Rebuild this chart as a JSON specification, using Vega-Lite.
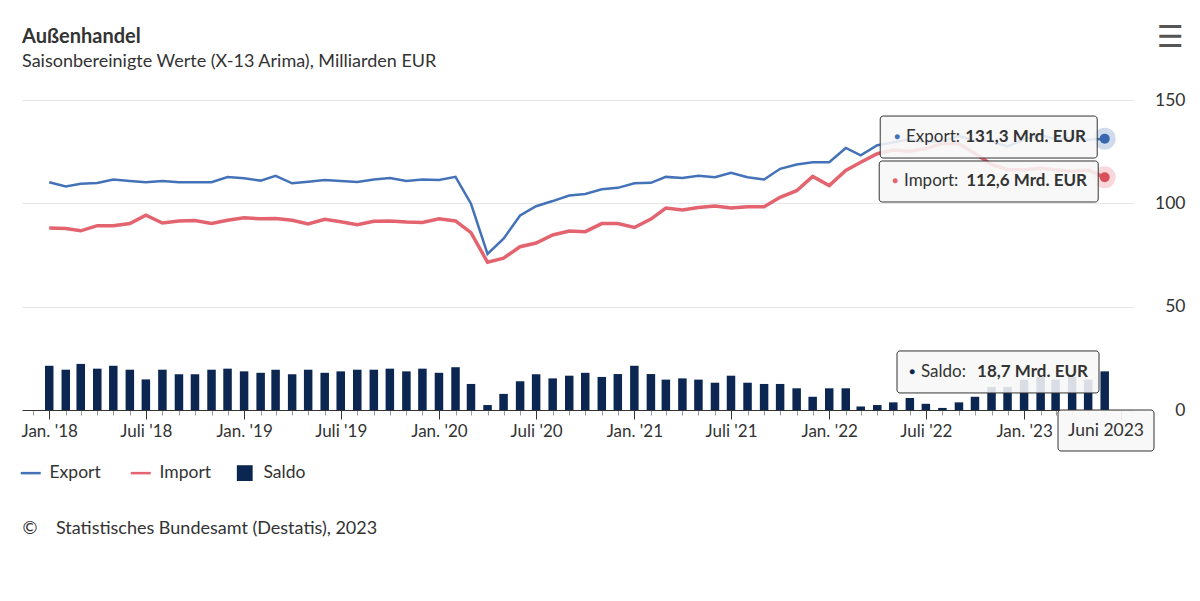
{
  "$schema": "https://vega.github.io/schema/vega-lite/v6.json",
  "width": 1111,
  "height": 310,
  "autosize": {"type": "none"},
  "padding": {"left": 22, "top": 100, "right": 67, "bottom": 191},
  "background": "#ffffff",
  "config": {
    "font": "Lato",
    "view": {"stroke": null},
    "axis": {"labelFont": "Lato", "titleFont": "Lato", "labelColor": "#333333", "titleColor": "#333333"}
  },
  "title": {
    "text": "Außenhandel",
    "subtitle": "Saisonbereinigte Werte (X-13 Arima), Milliarden EUR",
    "anchor": "start",
    "frame": "group",
    "font": "Lato",
    "fontSize": 20,
    "fontWeight": "bold",
    "color": "#333333",
    "subtitleFont": "Lato",
    "subtitleFontSize": 18,
    "subtitleColor": "#333333",
    "subtitlePadding": 6,
    "offset": -49
  },
  "data": {
    "values": [
      {"date": "2018-01-01", "Export": 110.2, "Import": 88.1, "Saldo": 21.4},
      {"date": "2018-02-01", "Export": 108.2, "Import": 87.8, "Saldo": 19.5},
      {"date": "2018-03-01", "Export": 109.5, "Import": 86.7, "Saldo": 22.3},
      {"date": "2018-04-01", "Export": 109.8, "Import": 89.2, "Saldo": 20.0},
      {"date": "2018-05-01", "Export": 111.5, "Import": 89.2, "Saldo": 21.4},
      {"date": "2018-06-01", "Export": 110.8, "Import": 90.2, "Saldo": 19.5},
      {"date": "2018-07-01", "Export": 110.2, "Import": 94.3, "Saldo": 14.8},
      {"date": "2018-08-01", "Export": 110.8, "Import": 90.5, "Saldo": 19.5},
      {"date": "2018-09-01", "Export": 110.2, "Import": 91.5, "Saldo": 17.3},
      {"date": "2018-10-01", "Export": 110.2, "Import": 91.7, "Saldo": 17.3},
      {"date": "2018-11-01", "Export": 110.2, "Import": 90.2, "Saldo": 19.5},
      {"date": "2018-12-01", "Export": 112.7, "Import": 91.8, "Saldo": 20.0},
      {"date": "2019-01-01", "Export": 112.1, "Import": 93.0, "Saldo": 18.7},
      {"date": "2019-02-01", "Export": 111.0, "Import": 92.5, "Saldo": 18.0},
      {"date": "2019-03-01", "Export": 113.3, "Import": 92.7, "Saldo": 19.5},
      {"date": "2019-04-01", "Export": 109.7, "Import": 91.8, "Saldo": 17.3},
      {"date": "2019-05-01", "Export": 110.5, "Import": 90.0, "Saldo": 19.5},
      {"date": "2019-06-01", "Export": 111.3, "Import": 92.3, "Saldo": 18.0},
      {"date": "2019-07-01", "Export": 110.8, "Import": 91.1, "Saldo": 18.7},
      {"date": "2019-08-01", "Export": 110.3, "Import": 89.6, "Saldo": 19.5},
      {"date": "2019-09-01", "Export": 111.5, "Import": 91.3, "Saldo": 19.5},
      {"date": "2019-10-01", "Export": 112.3, "Import": 91.5, "Saldo": 20.0},
      {"date": "2019-11-01", "Export": 110.8, "Import": 91.0, "Saldo": 18.7},
      {"date": "2019-12-01", "Export": 111.5, "Import": 90.7, "Saldo": 20.0},
      {"date": "2020-01-01", "Export": 111.3, "Import": 92.5, "Saldo": 18.0},
      {"date": "2020-02-01", "Export": 112.8, "Import": 91.5, "Saldo": 20.7},
      {"date": "2020-03-01", "Export": 99.8, "Import": 85.8, "Saldo": 12.6},
      {"date": "2020-04-01", "Export": 75.5, "Import": 71.5, "Saldo": 2.4},
      {"date": "2020-05-01", "Export": 82.9, "Import": 73.5, "Saldo": 7.8},
      {"date": "2020-06-01", "Export": 94.1, "Import": 79.0, "Saldo": 13.9},
      {"date": "2020-07-01", "Export": 98.6, "Import": 80.8, "Saldo": 17.3},
      {"date": "2020-08-01", "Export": 101.1, "Import": 84.7, "Saldo": 15.3},
      {"date": "2020-09-01", "Export": 103.8, "Import": 86.6, "Saldo": 16.6},
      {"date": "2020-10-01", "Export": 104.5, "Import": 86.3, "Saldo": 18.0},
      {"date": "2020-11-01", "Export": 106.8, "Import": 90.2, "Saldo": 16.0},
      {"date": "2020-12-01", "Export": 107.5, "Import": 90.2, "Saldo": 17.4},
      {"date": "2021-01-01", "Export": 109.7, "Import": 88.3, "Saldo": 21.4},
      {"date": "2021-02-01", "Export": 109.9, "Import": 92.4, "Saldo": 17.4},
      {"date": "2021-03-01", "Export": 112.8, "Import": 97.7, "Saldo": 14.7},
      {"date": "2021-04-01", "Export": 112.3, "Import": 96.8, "Saldo": 15.3},
      {"date": "2021-05-01", "Export": 113.3, "Import": 98.0, "Saldo": 14.7},
      {"date": "2021-06-01", "Export": 112.6, "Import": 98.7, "Saldo": 13.2},
      {"date": "2021-07-01", "Export": 114.8, "Import": 97.7, "Saldo": 16.6},
      {"date": "2021-08-01", "Export": 112.6, "Import": 98.4, "Saldo": 13.2},
      {"date": "2021-09-01", "Export": 111.5, "Import": 98.4, "Saldo": 12.6},
      {"date": "2021-10-01", "Export": 116.7, "Import": 102.9, "Saldo": 12.6},
      {"date": "2021-11-01", "Export": 118.8, "Import": 106.1, "Saldo": 10.5},
      {"date": "2021-12-01", "Export": 119.9, "Import": 113.0, "Saldo": 6.4},
      {"date": "2022-01-01", "Export": 119.9, "Import": 108.6, "Saldo": 10.5},
      {"date": "2022-02-01", "Export": 126.8, "Import": 115.9, "Saldo": 10.5},
      {"date": "2022-03-01", "Export": 123.2, "Import": 119.9, "Saldo": 1.7},
      {"date": "2022-04-01", "Export": 128.1, "Import": 124.0, "Saldo": 2.4},
      {"date": "2022-05-01", "Export": 129.5, "Import": 125.8, "Saldo": 3.7},
      {"date": "2022-06-01", "Export": 131.0, "Import": 125.2, "Saldo": 5.8},
      {"date": "2022-07-01", "Export": 129.5, "Import": 126.5, "Saldo": 3.0},
      {"date": "2022-08-01", "Export": 130.0, "Import": 129.0, "Saldo": 1.0},
      {"date": "2022-09-01", "Export": 132.5, "Import": 128.8, "Saldo": 3.7},
      {"date": "2022-10-01", "Export": 130.5, "Import": 124.1, "Saldo": 6.4},
      {"date": "2022-11-01", "Export": 130.0, "Import": 118.8, "Saldo": 11.2},
      {"date": "2022-12-01", "Export": 127.5, "Import": 116.3, "Saldo": 11.2},
      {"date": "2023-01-01", "Export": 131.0, "Import": 116.3, "Saldo": 14.7},
      {"date": "2023-02-01", "Export": 133.0, "Import": 117.0, "Saldo": 16.0},
      {"date": "2023-03-01", "Export": 131.0, "Import": 116.3, "Saldo": 14.7},
      {"date": "2023-04-01", "Export": 131.5, "Import": 115.5, "Saldo": 16.0},
      {"date": "2023-05-01", "Export": 130.8, "Import": 116.1, "Saldo": 14.7},
      {"date": "2023-06-01", "Export": 131.3, "Import": 112.6, "Saldo": 18.7}
    ]
  },
  "layer": [
    {
      "mark": {"type": "bar", "size": 8.5},
      "encoding": {
        "x": {
          "field": "date", "type": "temporal",
          "scale": {"type": "utc", "padding": 0, "domain": [{"year": 2017, "month": 11, "date": 11, "utc": true}, {"year": 2023, "month": 7, "date": 24, "utc": true}]},
          "axis": {
            "tickCount": {"interval": "month", "step": 1},
            "labelExpr": "utcmonth(datum.value) === 0 ? \"Jan. '\" + utcFormat(datum.value, '%y') : (utcmonth(datum.value) === 6 && utcyear(datum.value) < 2023 ? \"Juli '\" + utcFormat(datum.value, '%y') : '')",
            "labelOverlap": false,
            "labelFontSize": 17,
            "labelPadding": 4,
            "labelFlush": false,
            "grid": false,
            "domainColor": "#333333",
            "domainWidth": 1,
            "tickSize": {"condition": {"test": "utcmonth(datum.value) % 6 === 0", "value": 9}, "value": 5},
            "tickColor": {"condition": {"test": "utcmonth(datum.value) % 6 === 0", "value": "#333333"}, "value": "#999999"},
            "tickWidth": 1,
            "title": "©\u00a0\u00a0\u00a0\u00a0Statistisches Bundesamt (Destatis), 2023",
            "titleAnchor": "start",
            "titleAlign": "left",
            "titleBaseline": "middle",
            "titleX": 0,
            "titleY": 118,
            "titleFontSize": 18,
            "titleFontWeight": "normal"
          }
        },
        "y": {
          "field": "Saldo", "type": "quantitative",
          "scale": {"domain": [0, 150], "nice": false},
          "axis": {
            "orient": "right",
            "values": [0, 50, 100, 150],
            "grid": true,
            "gridColor": "#e6e6e6",
            "domain": false,
            "ticks": false,
            "labelAlign": "right",
            "labelPadding": 52,
            "labelFontSize": 17.5,
            "title": "☰",
            "titleFont": "DejaVu Sans",
            "titleFontSize": 30,
            "titleFontWeight": "bold",
            "titleColor": "#555555",
            "titleAngle": 0,
            "titleAlign": "center",
            "titleBaseline": "middle",
            "titleX": 37,
            "titleY": -63
          }
        },
        "color": {
          "datum": "Saldo", "type": "nominal",
          "scale": {"domain": ["Export", "Import", "Saldo"], "range": ["#4472b8", "#e3636f", "#0b2650"]},
          "legend": {
            "orient": "none",
            "legendX": 0,
            "legendY": 364,
            "direction": "horizontal",
            "title": null,
            "labelFont": "Lato",
            "labelFontSize": 17.5,
            "labelColor": "#333333",
            "labelOffset": 10,
            "columnPadding": 24,
            "symbolSize": 400,
            "encode": {
              "symbols": {
                "update": {
                  "shape": {"signal": "datum.value === 'Saldo' ? 'square' : 'stroke'"},
                  "size": {"signal": "datum.value === 'Saldo' ? 250 : 400"},
                  "fill": {"signal": "datum.value === 'Saldo' ? '#0b2650' : 'transparent'"},
                  "stroke": {"signal": "datum.value === 'Export' ? '#4472b8' : (datum.value === 'Import' ? '#e3636f' : 'transparent')"},
                  "strokeWidth": {"signal": "datum.value === 'Saldo' ? 0 : 2.5"},
                  "opacity": {"value": 1}
                }
              }
            }
          }
        }
      }
    },
    {
      "mark": {"type": "line", "strokeWidth": 2.5},
      "encoding": {
        "x": {"field": "date", "type": "temporal"},
        "y": {"field": "Export", "type": "quantitative"},
        "color": {"datum": "Export", "type": "nominal"}
      }
    },
    {
      "mark": {"type": "line", "strokeWidth": 3.5},
      "encoding": {
        "x": {"field": "date", "type": "temporal"},
        "y": {"field": "Import", "type": "quantitative"},
        "color": {"datum": "Import", "type": "nominal"}
      }
    },
    {
      "transform": [{"filter": "utcyear(datum.date) === 2023 && utcmonth(datum.date) === 5"}],
      "mark": {"type": "circle", "size": 484, "color": "#4472b8", "opacity": 0.25},
      "encoding": {
        "x": {"field": "date", "type": "temporal"},
        "y": {"field": "Export", "type": "quantitative"}
      }
    },
    {
      "transform": [{"filter": "utcyear(datum.date) === 2023 && utcmonth(datum.date) === 5"}],
      "mark": {"type": "circle", "size": 484, "color": "#e3636f", "opacity": 0.25},
      "encoding": {
        "x": {"field": "date", "type": "temporal"},
        "y": {"field": "Import", "type": "quantitative"}
      }
    },
    {
      "transform": [{"filter": "utcyear(datum.date) === 2023 && utcmonth(datum.date) === 5"}],
      "mark": {"type": "circle", "size": 100, "color": "#3a66ad", "opacity": 1},
      "encoding": {
        "x": {"field": "date", "type": "temporal"},
        "y": {"field": "Export", "type": "quantitative"}
      }
    },
    {
      "transform": [{"filter": "utcyear(datum.date) === 2023 && utcmonth(datum.date) === 5"}],
      "mark": {"type": "circle", "size": 100, "color": "#d9505d", "opacity": 1},
      "encoding": {
        "x": {"field": "date", "type": "temporal"},
        "y": {"field": "Import", "type": "quantitative"}
      }
    },
    {
      "transform": [{"filter": "utcyear(datum.date) === 2023 && utcmonth(datum.date) === 5"}],
      "mark": {"type": "rect", "width": 217, "height": 42, "xOffset": -116, "yOffset": -1.6, "fill": "#f7f7f7", "fillOpacity": 0.88, "stroke": "#333333", "strokeWidth": 1, "cornerRadius": 3},
      "encoding": {
        "x": {"field": "date", "type": "temporal"},
        "y": {"field": "Export", "type": "quantitative"}
      }
    },
    {
      "transform": [{"filter": "utcyear(datum.date) === 2023 && utcmonth(datum.date) === 5"}],
      "mark": {"type": "rect", "width": 219, "height": 41, "xOffset": -116, "yOffset": 4.2, "fill": "#f7f7f7", "fillOpacity": 0.88, "stroke": "#333333", "strokeWidth": 1, "cornerRadius": 3},
      "encoding": {
        "x": {"field": "date", "type": "temporal"},
        "y": {"field": "Import", "type": "quantitative"}
      }
    },
    {
      "transform": [{"filter": "utcyear(datum.date) === 2023 && utcmonth(datum.date) === 5"}],
      "mark": {"type": "rect", "width": 202, "height": 42, "xOffset": -106.7, "yOffset": 0.6, "fill": "#f7f7f7", "fillOpacity": 0.88, "stroke": "#333333", "strokeWidth": 1, "cornerRadius": 3},
      "encoding": {
        "x": {"field": "date", "type": "temporal"},
        "y": {"field": "Saldo", "type": "quantitative"}
      }
    },
    {
      "transform": [{"filter": "utcyear(datum.date) === 2023 && utcmonth(datum.date) === 5"}],
      "mark": {"type": "rect", "width": 96, "height": 41, "xOffset": 1.3, "yOffset": 20.5, "fill": "#f7f7f7", "fillOpacity": 0.92, "stroke": "#333333", "strokeWidth": 1, "cornerRadius": 3},
      "encoding": {
        "x": {"field": "date", "type": "temporal"},
        "y": {"datum": 0, "type": "quantitative"}
      }
    },
    {
      "transform": [{"filter": "utcyear(datum.date) === 2023 && utcmonth(datum.date) === 5"}],
      "mark": {"type": "text", "text": "●", "fontSize": 10, "align": "center", "baseline": "middle", "xOffset": -207.7, "yOffset": -1.5, "color": "#4472b8"},
      "encoding": {
        "x": {"field": "date", "type": "temporal"},
        "y": {"field": "Export", "type": "quantitative"}
      }
    },
    {
      "transform": [{"filter": "utcyear(datum.date) === 2023 && utcmonth(datum.date) === 5"}],
      "mark": {"type": "text", "text": "Export:", "font": "Lato", "fontSize": 17, "align": "left", "baseline": "middle", "xOffset": -198.7, "yOffset": -1.5, "color": "#333333"},
      "encoding": {
        "x": {"field": "date", "type": "temporal"},
        "y": {"field": "Export", "type": "quantitative"}
      }
    },
    {
      "transform": [{"filter": "utcyear(datum.date) === 2023 && utcmonth(datum.date) === 5"}, {"calculate": "replace(format(datum.Export, '.1f'), '.', ',') + ' Mrd. EUR'", "as": "lab"}],
      "mark": {"type": "text", "font": "Lato", "fontSize": 17, "fontWeight": "bold", "align": "right", "baseline": "middle", "xOffset": -18.7, "yOffset": -1.5, "color": "#333333"},
      "encoding": {
        "x": {"field": "date", "type": "temporal"},
        "y": {"field": "Export", "type": "quantitative"},
        "text": {"field": "lab"}
      }
    },
    {
      "transform": [{"filter": "utcyear(datum.date) === 2023 && utcmonth(datum.date) === 5"}],
      "mark": {"type": "text", "text": "●", "fontSize": 10, "align": "center", "baseline": "middle", "xOffset": -209.7, "yOffset": 3.7, "color": "#e3636f"},
      "encoding": {
        "x": {"field": "date", "type": "temporal"},
        "y": {"field": "Import", "type": "quantitative"}
      }
    },
    {
      "transform": [{"filter": "utcyear(datum.date) === 2023 && utcmonth(datum.date) === 5"}],
      "mark": {"type": "text", "text": "Import:", "font": "Lato", "fontSize": 17, "align": "left", "baseline": "middle", "xOffset": -200.7, "yOffset": 3.7, "color": "#333333"},
      "encoding": {
        "x": {"field": "date", "type": "temporal"},
        "y": {"field": "Import", "type": "quantitative"}
      }
    },
    {
      "transform": [{"filter": "utcyear(datum.date) === 2023 && utcmonth(datum.date) === 5"}, {"calculate": "replace(format(datum.Import, '.1f'), '.', ',') + ' Mrd. EUR'", "as": "lab"}],
      "mark": {"type": "text", "font": "Lato", "fontSize": 17, "fontWeight": "bold", "align": "right", "baseline": "middle", "xOffset": -17.7, "yOffset": 3.7, "color": "#333333"},
      "encoding": {
        "x": {"field": "date", "type": "temporal"},
        "y": {"field": "Import", "type": "quantitative"},
        "text": {"field": "lab"}
      }
    },
    {
      "transform": [{"filter": "utcyear(datum.date) === 2023 && utcmonth(datum.date) === 5"}],
      "mark": {"type": "text", "text": "●", "fontSize": 10, "align": "center", "baseline": "middle", "xOffset": -192.7, "yOffset": 0.6, "color": "#0b2650"},
      "encoding": {
        "x": {"field": "date", "type": "temporal"},
        "y": {"field": "Saldo", "type": "quantitative"}
      }
    },
    {
      "transform": [{"filter": "utcyear(datum.date) === 2023 && utcmonth(datum.date) === 5"}],
      "mark": {"type": "text", "text": "Saldo:", "font": "Lato", "fontSize": 17, "align": "left", "baseline": "middle", "xOffset": -183.7, "yOffset": 0.6, "color": "#333333"},
      "encoding": {
        "x": {"field": "date", "type": "temporal"},
        "y": {"field": "Saldo", "type": "quantitative"}
      }
    },
    {
      "transform": [{"filter": "utcyear(datum.date) === 2023 && utcmonth(datum.date) === 5"}, {"calculate": "replace(format(datum.Saldo, '.1f'), '.', ',') + ' Mrd. EUR'", "as": "lab"}],
      "mark": {"type": "text", "font": "Lato", "fontSize": 17, "fontWeight": "bold", "align": "right", "baseline": "middle", "xOffset": -16.7, "yOffset": 0.6, "color": "#333333"},
      "encoding": {
        "x": {"field": "date", "type": "temporal"},
        "y": {"field": "Saldo", "type": "quantitative"},
        "text": {"field": "lab"}
      }
    },
    {
      "transform": [{"filter": "utcyear(datum.date) === 2023 && utcmonth(datum.date) === 5"}],
      "mark": {"type": "text", "text": "Juni 2023", "font": "Lato", "fontSize": 17.5, "align": "center", "baseline": "middle", "xOffset": 1.3, "yOffset": 21, "color": "#333333"},
      "encoding": {
        "x": {"field": "date", "type": "temporal"},
        "y": {"datum": 0, "type": "quantitative"}
      }
    }
  ]
}
